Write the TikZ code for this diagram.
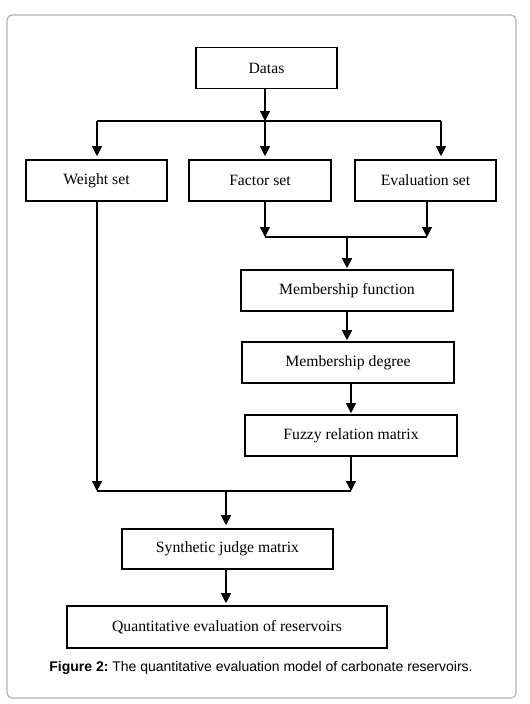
\documentclass[tikz,border=0pt]{standalone}
\usepackage{fontspec}
\setmainfont{Liberation Serif}
\newfontfamily\capfont{Liberation Sans}
\usetikzlibrary{positioning,arrows.meta}

\begin{document}
\begin{tikzpicture}[x=1pt,y=-1pt,
    box/.style={draw, line width=1.6pt, minimum height=41pt, inner sep=0pt, font=\fontsize{15.7}{18}\selectfont},
    link/.style={line width=1.2pt},
    >={Triangle[width=10pt,length=10pt]}]
  \useasboundingbox (0,0) rectangle (530,704);
  \draw[gray!60, line width=1.2pt, rounded corners=5pt] (7,15) rectangle (516,698);

  % boxes
  \node[box, minimum width=141pt] (datas) at (266.5,68) {Datas};
  \node[box, minimum width=141pt] (weight) at (96.5,180.5) {Weight set};
  \node[box, minimum width=142pt] (factor) at (260,180.5) {Factor set};
  \node[box, minimum width=141pt] (evalset) at (425.5,180.5) {Evaluation set};
  \node[box, minimum width=212pt] (memfun) at (347,290.5) {Membership function};
  \node[box, minimum width=212pt] (memdeg) at (348,362.5) {Membership degree};
  \node[box, minimum width=212pt] (fuzzy) at (351,435.5) {Fuzzy relation matrix};
  \node[box, minimum width=211pt, minimum height=40pt] (synth) at (227.5,549) {Synthetic judge matrix};
  \node[box, minimum width=320pt, minimum height=42pt] (quant) at (227,627) {Quantitative evaluation of reservoirs};

  % junctions
  \coordinate (split) at (265,121);
  \coordinate (busL) at (97,121);
  \coordinate (busR) at (441,121);
  \coordinate (jF) at (265,237);
  \coordinate (jM) at (347,237);
  \coordinate (jE) at (427,237);
  \coordinate (kL) at (97,491);
  \coordinate (kM) at (226,491);
  \coordinate (kR) at (351,491);

  % connectors
  \draw[link, ->] (datas.south -| split) -- (split);
  \draw[link] (busL) -- (busR);
  \draw[link, ->, shorten >=3pt] (busL) -- (busL |- weight.north);
  \draw[link, ->, shorten >=3pt] (split) -- (split |- factor.north);
  \draw[link, ->, shorten >=3pt] (busR) -- (busR |- evalset.north);

  \draw[link, ->] (factor.south -| jF) -- (jF);
  \draw[link, ->] (evalset.south -| jE) -- (jE);
  \draw[link] (jF) -- (jE);
  \draw[link, ->, shorten >=1pt] (jM) -- (jM |- memfun.north);
  \draw[link, ->, shorten >=1pt] (memfun.south) -- (memfun.south |- memdeg.north);
  \draw[link, ->, shorten >=1pt] (fuzzy.north |- memdeg.south) -- (fuzzy.north);

  \draw[link, ->] (weight.south -| kL) -- (kL);
  \draw[link, ->] (fuzzy.south -| kR) -- (kR);
  \draw[link] (kL) -- (kR);
  \draw[link, ->, shorten >=3pt] (kM) -- (kM |- synth.north);
  \draw[link, ->, shorten >=2pt] (synth.south -| kM) -- (quant.north -| kM);

  \node[font=\capfont\fontsize{14}{16}\selectfont] (caption) at (261,668) {\textbf{Figure 2:}~The quantitative evaluation model of carbonate reservoirs.};
\end{tikzpicture}
\end{document}
